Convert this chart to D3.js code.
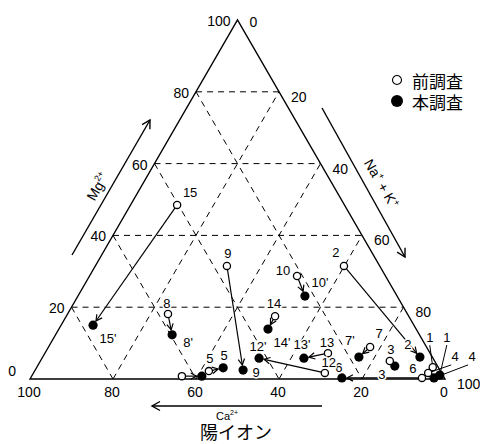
<!DOCTYPE html>
<html>
<head>
<meta charset="utf-8">
<script src="https://cdn.jsdelivr.net/npm/d3@7"></script>
<style>
  html, body { margin: 0; padding: 0; background: #fff; }
  svg { display: block; }
</style>
</head>
<body>
<svg id="chart" width="480" height="444"></svg>
<script>
// Cation composition (% of Ca2+, Mg2+, Na+ + K+) for each sampling site
const siteIds   = ["1", "2", "3", "4", "5a", "5b", "6", "7", "8", "9", "10", "12", "13", "14", "15"];

// earlier survey (前調査)
const prevCa  = [1.3, 8.6, 10.8, 3.2, 63.0, 55.8, 5.4, 13.6, 57.7, 36.8, 21.3, 28.1, 24.6, 32.2, 40.3];
const prevMg  = [3.3, 31.5, 5.0, 1.7, 0.8, 2.2, 0.3, 8.9, 18.1, 31.5, 28.7, 1.7, 7.2, 17.5, 48.5];
const prevNaK = [95.4, 59.9, 84.2, 95.1, 36.2, 42.0, 94.3, 77.5, 24.2, 31.7, 50.0, 70.2, 68.2, 50.3, 11.2];

// present survey (本調査)
const currCa  = [0.7, 3.0, 10.3, 2.5, 58.2, 51.9, 24.7, 17.7, 59.6, 47.4, 22.2, 41.9, 31.1, 35.7, 77.3];
const currMg  = [1.1, 6.1, 3.6, 0.3, 0.8, 3.1, 0.3, 6.1, 12.3, 2.5, 23.1, 5.8, 5.8, 13.9, 15.0];
const currNaK = [98.2, 90.9, 86.1, 97.2, 41.0, 45.0, 75.0, 76.2, 28.1, 50.1, 54.7, 52.3, 63.1, 50.4, 7.7];

const prevLabels = ["1", "2", "3", "4", "", "5", "6", "7", "8", "9", "10", "12", "13", "14", "15"];
const currLabels = ["1", "2", "3", "4", "", "5", "6", "7'", "8'", "9", "10'", "12'", "13'", "14'", "15'"];

const tickValues = [0, 20, 40, 60, 80, 100];
const gridValues = [20, 40, 60, 80];

const legendItems = ["前調査", "本調査"];

// ---------------------------------------------------------------------------
// label placement (offset from the marker, px)
const prevOff = [[-3,-30],[-8,-13],[1,-12],[27,-16],null,[1,-13],[-9,-9],[9,-14],[-1,-11],[1,-12],[-14,-5],[4,-10],[-1,-11],[-1,-13],[13,-12]];
const currOff = [[7,-38],[-12,-13],[-13,8],[38,-21],null,[1,-12],[-3,-10],[-9,-17],[16,8],[13,2],[15,-14],[-1,-12],[-2,-14],[14,13],[15,13]];
const leaderSites = ["1", "4"];

const svg = d3.select("#chart");
const NUM = "'Liberation Sans', Arial, sans-serif";
const CJK = "'Noto Sans CJK JP', sans-serif";

// Ternary projection: base runs Ca=100 (left) to Na+K=100 (right), apex is Mg=100
const xBase = d3.scaleLinear().domain([0, 100]).range([30, 445]);
const yMg   = d3.scaleLinear().domain([0, 100]).range([379, 20]);
const proj = (ca, mg, nak) => [xBase(nak + mg / 2), yMg(mg)];

const defs = svg.append("defs");
defs.append("marker").attr("id", "head").attr("markerUnits", "userSpaceOnUse")
  .attr("viewBox", "-8 -5 10 10").attr("refX", 0).attr("refY", 0)
  .attr("markerWidth", 10).attr("markerHeight", 10).attr("orient", "auto")
  .append("path").attr("d", "M-6,-3.2L0,0L-6,3.2").attr("fill", "none")
  .attr("stroke", "#000").attr("stroke-width", 1.2);
defs.append("marker").attr("id", "bighead").attr("markerUnits", "userSpaceOnUse")
  .attr("viewBox", "-10 -6 12 12").attr("refX", 0).attr("refY", 0)
  .attr("markerWidth", 12).attr("markerHeight", 12).attr("orient", "auto")
  .append("path").attr("d", "M-8,-4.5L0,0L-8,4.5").attr("fill", "none")
  .attr("stroke", "#000").attr("stroke-width", 1.4);

// --- dashed grid -------------------------------------------------------------
const gridLines = [];
gridValues.forEach(v => {
  gridLines.push([proj(100 - v, v, 0), proj(0, v, 100 - v)]);       // Mg = v
  gridLines.push([proj(v, 100 - v, 0), proj(v, 0, 100 - v)]);       // Ca = v
  gridLines.push([proj(100 - v, 0, v), proj(0, 100 - v, v)]);       // Na+K = v
});
svg.append("g").selectAll("line").data(gridLines).join("line")
  .attr("x1", d => d[0][0]).attr("y1", d => d[0][1])
  .attr("x2", d => d[1][0]).attr("y2", d => d[1][1])
  .attr("stroke", "#000").attr("stroke-width", 1)
  .attr("stroke-dasharray", "6,5");

// --- outline -------------------------------------------------------------------
const corners = [proj(100, 0, 0), proj(0, 100, 0), proj(0, 0, 100)];
svg.append("path").attr("d", d3.line()(corners) + "Z")
  .attr("fill", "none").attr("stroke", "#000").attr("stroke-width", 1.4)
  .attr("stroke-linejoin", "miter");

// --- tick labels ---------------------------------------------------------------
const tickG = svg.append("g").attr("font-family", NUM).attr("font-size", 14).attr("fill", "#000");
tickValues.forEach(v => {
  // Mg2+ along the left side
  const [lx, ly] = proj(100 - v, v, 0);
  tickG.append("text").attr("text-anchor", "end").attr("dominant-baseline", "central")
    .attr("x", v === 0 ? lx - 14 : lx - 7).attr("y", v === 0 ? ly - 8 : ly + 1).text(v);
  // Na+ + K+ along the right side
  const [rx, ry] = proj(0, 100 - v, v);
  tickG.append("text").attr("text-anchor", "start").attr("dominant-baseline", "central")
    .attr("x", rx + 12).attr("y", ry + (v === 0 ? 2 : 5)).text(v);
  // Ca2+ along the base
  const [bx, by] = proj(v, 0, 100 - v);
  tickG.append("text").attr("text-anchor", "middle").attr("dominant-baseline", "central")
    .attr("x", bx - 1).attr("y", by + 13).text(v);
});

// --- component arrows and titles ----------------------------------------------
const axisG = svg.append("g").attr("stroke", "#000").attr("fill", "none").attr("stroke-width", 1.4);
axisG.append("line").attr("x1", 72).attr("y1", 255).attr("x2", 150).attr("y2", 120)
  .attr("marker-end", "url(#bighead)");
axisG.append("line").attr("x1", 322).attr("y1", 108).attr("x2", 405).attr("y2", 257)
  .attr("marker-end", "url(#bighead)");
axisG.append("line").attr("x1", 322).attr("y1", 406).attr("x2", 152).attr("y2", 406)
  .attr("marker-end", "url(#bighead)");

const mgT = svg.append("text").attr("font-family", NUM).attr("font-size", 14)
  .attr("text-anchor", "middle").attr("transform", "translate(102,189) rotate(-60)");
mgT.append("tspan").text("Mg");
mgT.append("tspan").attr("font-size", 9).attr("dy", -6).text("2+");

const naT = svg.append("text").attr("font-family", NUM).attr("font-size", 14)
  .attr("text-anchor", "middle").attr("transform", "translate(377,186) rotate(60)");
naT.append("tspan").text("Na");
naT.append("tspan").attr("font-size", 9).attr("dy", -6).text("+");
naT.append("tspan").attr("dy", 6).text(" + K");
naT.append("tspan").attr("font-size", 9).attr("dy", -6).text("+");

const caT = svg.append("text").attr("font-family", NUM).attr("font-size", 11)
  .attr("x", 216).attr("y", 420);
caT.append("tspan").text("Ca");
caT.append("tspan").attr("font-size", 7).attr("dy", -5).text("2+");

svg.append("text").attr("font-family", CJK).attr("font-size", 18)
  .attr("x", 200).attr("y", 439).text("陽イオン");

// --- survey pairs: arrows from earlier to present composition ----------------
const rOpen = 3.6, rFill = 4.6;
const pairs = siteIds.map((id, i) => ({
  id,
  p: proj(prevCa[i], prevMg[i], prevNaK[i]),
  c: proj(currCa[i], currMg[i], currNaK[i]),
  pl: prevLabels[i], cl: currLabels[i],
  po: prevOff[i], co: currOff[i]
}));

const linkG = svg.append("g").attr("stroke", "#000").attr("stroke-width", 1.2);
pairs.forEach(d => {
  const dx = d.c[0] - d.p[0], dy = d.c[1] - d.p[1];
  const len = Math.hypot(dx, dy);
  if (len < 12) return;
  const ux = dx / len, uy = dy / len;
  linkG.append("line")
    .attr("x1", d.p[0] + ux * rOpen).attr("y1", d.p[1] + uy * rOpen)
    .attr("x2", d.c[0] - ux * (rFill + 0.5)).attr("y2", d.c[1] - uy * (rFill + 0.5))
    .attr("marker-end", "url(#head)");
});

// leader lines for the crowded corner
const leadG = svg.append("g").attr("stroke", "#000").attr("stroke-width", 1);
pairs.filter(d => leaderSites.includes(d.id)).forEach(d => {
  [[d.p, d.po], [d.c, d.co]].forEach(([pt, off]) => {
    const lx = pt[0] + off[0], ly = pt[1] + off[1];
    const sx = off[0] > 15 ? lx - 4 : lx, sy = ly + 8;
    const ang = Math.atan2(pt[1] - sy, pt[0] - sx);
    leadG.append("line").attr("x1", sx).attr("y1", sy)
      .attr("x2", pt[0] - Math.cos(ang) * 4).attr("y2", pt[1] - Math.sin(ang) * 4);
  });
});

// markers
svg.append("g").selectAll("circle").data(pairs).join("circle")
  .attr("cx", d => d.c[0]).attr("cy", d => d.c[1]).attr("r", rFill).attr("fill", "#000");
svg.append("g").selectAll("circle").data(pairs).join("circle")
  .attr("cx", d => d.p[0]).attr("cy", d => d.p[1]).attr("r", rOpen)
  .attr("fill", "#fff").attr("stroke", "#000").attr("stroke-width", 1.3);

// site labels (white halo keeps them readable over the lines)
const labG = svg.append("g").attr("font-family", NUM).attr("font-size", 13)
  .attr("text-anchor", "middle").attr("dominant-baseline", "central");
pairs.forEach(d => {
  [[d.p, d.po, d.pl], [d.c, d.co, d.cl]].forEach(([pt, off, txt]) => {
    if (!txt) return;
    const x = pt[0] + off[0], y = pt[1] + off[1];
    labG.append("text").attr("x", x).attr("y", y)
      .attr("fill", "none").attr("stroke", "#fff").attr("stroke-width", 3).text(txt);
    labG.append("text").attr("x", x).attr("y", y).attr("fill", "#000").text(txt);
  });
});

// --- legend --------------------------------------------------------------------
const legG = svg.append("g").attr("transform", "translate(397,80)");
legendItems.forEach((name, i) => {
  const g = legG.append("g").attr("transform", `translate(0,${i * 21})`);
  if (i === 0) g.append("circle").attr("r", 4.5).attr("fill", "#fff").attr("stroke", "#000").attr("stroke-width", 1.1);
  else g.append("circle").attr("r", 6).attr("fill", "#000");
  g.append("text").attr("x", 15).attr("y", 0).attr("dominant-baseline", "central")
    .attr("font-family", CJK).attr("font-size", 17).text(name);
});
</script>
</body>
</html>
